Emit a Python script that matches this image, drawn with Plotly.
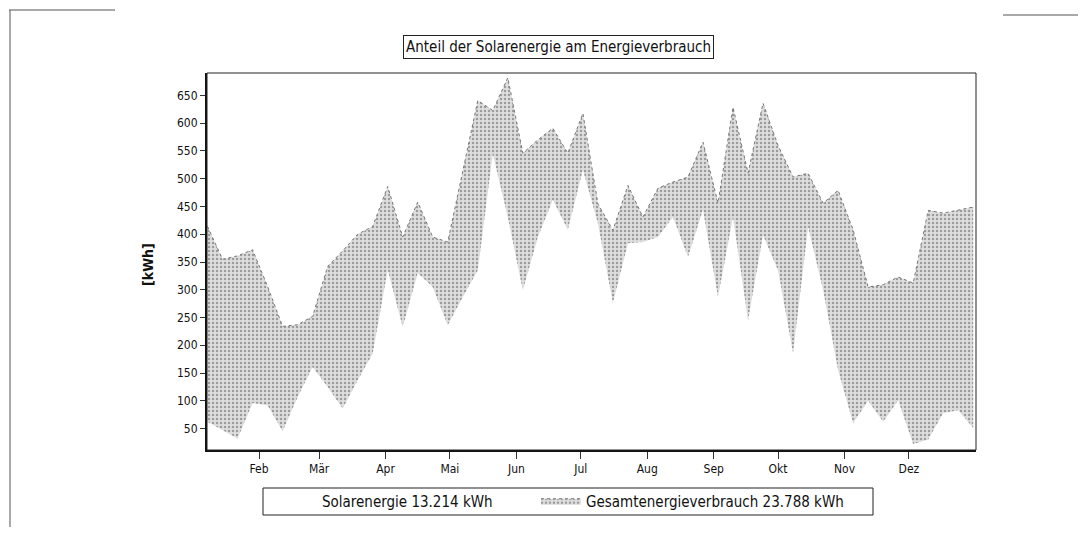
import plotly.graph_objects as go
import pandas as pd

# weekly values (kWh), one point per week
week_start = "2023-01-08"
n_weeks = 52
dates = pd.date_range(week_start, periods=n_weeks, freq="7D")

solar = [62, 47, 32, 96, 92, 45, 107, 161, 125, 86, 137, 185, 336, 233, 330,
         305, 236, 287, 335, 545, 431, 299, 395, 462, 408, 516, 420, 276, 384,
         386, 395, 431, 359, 444, 287, 431, 245, 398, 335, 186, 413, 300, 155,
         60, 100, 62, 101, 22, 30, 78, 83, 51]
gesamt = [414, 355, 361, 372, 306, 234, 237, 252, 342, 370, 400, 414, 486, 395,
          458, 395, 386, 515, 641, 623, 682, 546, 570, 591, 546, 618, 455, 407,
          488, 431, 483, 494, 503, 566, 456, 629, 510, 636, 560, 503, 510, 456,
          479, 408, 305, 309, 323, 312, 443, 438, 443, 449]

month_ticks = ["2023-02-01", "2023-03-01", "2023-04-01", "2023-05-01", "2023-06-01",
               "2023-07-01", "2023-08-01", "2023-09-01", "2023-10-01", "2023-11-01",
               "2023-12-01"]
month_labels = ["Feb", "Mär", "Apr", "Mai", "Jun", "Jul", "Aug", "Sep", "Okt", "Nov", "Dez"]
y_ticks = list(range(50, 651, 50))

title_text = "Anteil der Solarenergie am Energieverbrauch"
solar_name = "Solarenergie 13.214 kWh"
gesamt_name = "Gesamtenergieverbrauch 23.788 kWh"

FONT = "Liberation Sans Narrow, Arial Narrow, DejaVu Sans Condensed, Arial, sans-serif"

fig = go.Figure()
fig.add_trace(go.Scatter(
    x=dates, y=solar, name=solar_name, mode="lines", legend="legend",
    line=dict(color="rgba(255,255,255,0)", width=0),
))
fig.add_trace(go.Scatter(
    x=dates, y=gesamt, name=gesamt_name, mode="lines", legend="legend2",
    line=dict(color="#777777", width=1, dash="dot"),
    fill="tonexty",
    fillcolor="#d8d8d8",
    fillpattern=dict(shape=".", fgcolor="#5a5a5a", bgcolor="#dedede", size=4, solidity=0.3),
))

FIG_W, FIG_H, OFF = 1070, 519, 8   # page body has an 8px margin

# page pixel -> paper coordinates (plot area spans x 207..976, y 73..450 on the page)
def px_x(px):
    return (px - 207) / 769.0

def px_y(py):
    return (450 - py) / 377.0

# page pixel -> container coordinates
def cx(px):
    return (px - OFF) / FIG_W

def cy(py):
    return 1 - (py - OFF) / FIG_H

shapes = [
    dict(type="rect", xref="paper", yref="paper", x0=0, y0=0, x1=1, y1=1,
         line=dict(color="#222", width=1)),
    # legend frame
    dict(type="rect", xref="paper", yref="paper", x0=px_x(263), x1=px_x(873),
         y0=px_y(488), y1=px_y(515), line=dict(color="#222", width=1), fillcolor="white"),
    # edges of the scanned sheet
    dict(type="line", xref="paper", yref="paper", x0=px_x(10), x1=px_x(10),
         y0=px_y(10), y1=px_y(527), line=dict(color="#555", width=1)),
    dict(type="line", xref="paper", yref="paper", x0=px_x(9), x1=px_x(115),
         y0=px_y(10), y1=px_y(10), line=dict(color="#555", width=1)),
    dict(type="line", xref="paper", yref="paper", x0=px_x(1003), x1=px_x(1078),
         y0=px_y(15), y1=px_y(15), line=dict(color="#555", width=1)),
]

legend_common = dict(
    orientation="h", xref="container", yref="container",
    xanchor="left", yanchor="middle",
    borderwidth=0, bgcolor="rgba(0,0,0,0)",
    font=dict(family=FONT, size=15, color="#111"),
    itemwidth=40,
)

fig.update_layout(
    width=FIG_W, height=FIG_H,
    margin=dict(l=207 - OFF, r=FIG_W + OFF - 976, t=73 - OFF, b=FIG_H + OFF - 450),
    paper_bgcolor="white", plot_bgcolor="white",
    font=dict(family=FONT, size=12, color="#111"),
    showlegend=True,
    legend=dict(legend_common, x=cx(272), y=cy(501)),
    legend2=dict(legend_common, x=cx(536), y=cy(501)),
    shapes=shapes,
    annotations=[
        dict(text=title_text, xref="paper", yref="paper", x=px_x(558), y=px_y(47),
             xanchor="center", yanchor="middle", showarrow=False,
             font=dict(family=FONT, size=15, color="#111"),
             bordercolor="#222", borderwidth=1, borderpad=2, bgcolor="white"),
        dict(text="<b>[kWh]</b>", xref="paper", yref="paper", x=px_x(148), y=px_y(265),
             xanchor="center", yanchor="middle", showarrow=False, textangle=-90,
             font=dict(family=FONT, size=14, color="#111")),
    ],
)

fig.update_xaxes(
    type="date",
    range=["2023-01-07T18:00", "2024-01-01T07:00"],
    tickvals=month_ticks, ticktext=month_labels,
    ticks="outside", ticklen=7, tickcolor="#333", tickwidth=1,
    showline=True, linecolor="#111", linewidth=2,
    showgrid=False, zeroline=False, automargin=False,
    tickfont=dict(family=FONT, size=12, color="#111"),
)
fig.update_yaxes(
    range=[11.3, 690.5],
    tickvals=y_ticks,
    ticks="outside", ticklen=5, tickcolor="#333", tickwidth=1,
    showline=True, linecolor="#111", linewidth=2,
    showgrid=False, zeroline=False, automargin=False,
    tickfont=dict(family=FONT, size=12, color="#111"),
)

fig.write_html("out.html")
